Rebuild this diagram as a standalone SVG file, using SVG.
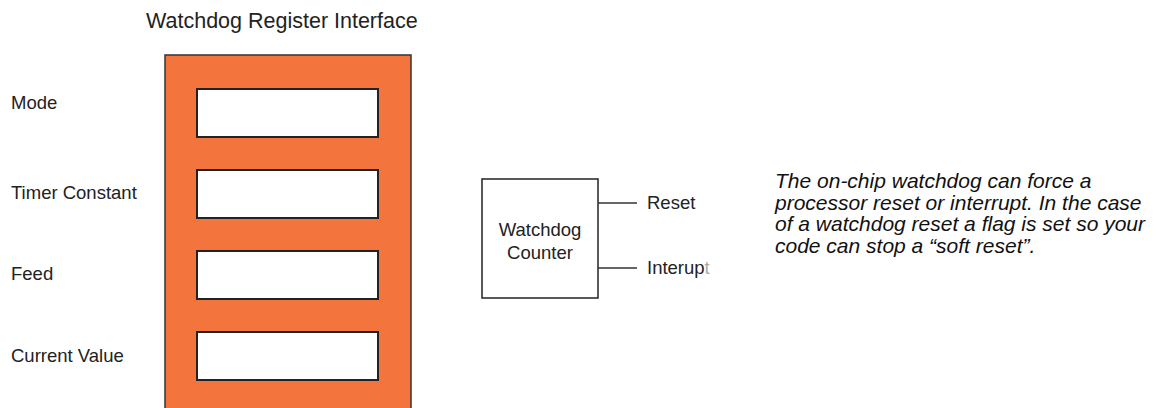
<svg xmlns="http://www.w3.org/2000/svg" width="1158" height="408" viewBox="0 0 1158 408">
<style>
text{font-family:"Liberation Sans",Arial,sans-serif;fill:#222}
.lbl{font-size:18.5px}
.reg{fill:#fff;stroke:#222;stroke-width:2}
.para{font-size:21px;font-style:italic;fill:#111}
.wire{stroke:#333;stroke-width:1.5;fill:none}
</style>
<rect width="1158" height="408" fill="#fff"/>
<text x="146" y="28" font-size="21.5">Watchdog Register Interface</text>
<g id="register-interface">
<rect x="165" y="55" width="246" height="360" fill="#F4743D" stroke="#333" stroke-width="1.5"/>
</g>
<g id="mode"><rect class="reg" x="197" y="89" width="181" height="48"/><text class="lbl" x="11" y="109">Mode</text></g>
<g id="timer-constant"><rect class="reg" x="197" y="170" width="181" height="48"/><text class="lbl" x="11" y="199">Timer Constant</text></g>
<g id="feed"><rect class="reg" x="197" y="251" width="181" height="48"/><text class="lbl" x="11" y="280">Feed</text></g>
<g id="current-value"><rect class="reg" x="197" y="332" width="181" height="48"/><text class="lbl" x="11" y="362">Current Value</text></g>
<g id="watchdog-counter">
<rect x="482" y="179" width="116" height="119" fill="#fff" stroke="#222" stroke-width="1.5"/>
<text class="lbl" x="540" y="236" text-anchor="middle">Watchdog</text>
<text class="lbl" x="540" y="259" text-anchor="middle">Counter</text>
</g>
<g id="connectors">
<line class="wire" x1="598" y1="203" x2="637" y2="203"/>
<line class="wire" x1="598" y1="268" x2="637" y2="268"/>
</g>
<text class="lbl" x="647" y="209">Reset</text>
<text class="lbl" x="647" y="274">Interup<tspan fill="#aaa">t</tspan></text>
<g id="description">
<text class="para" x="775" y="188">The on-chip watchdog can force a</text>
<text class="para" x="775" y="209.5">processor reset or interrupt. In the case</text>
<text class="para" x="775" y="231">of a watchdog reset a flag is set so your</text>
<text class="para" x="775" y="252.5">code can stop a “soft reset”.</text>
</g>
</svg>
